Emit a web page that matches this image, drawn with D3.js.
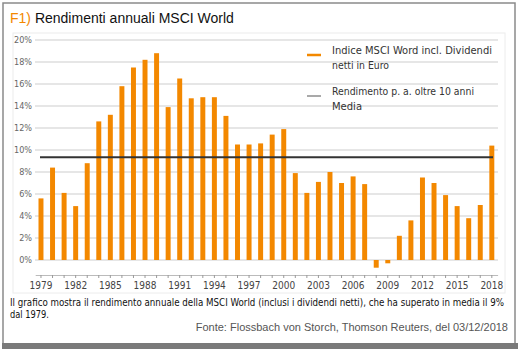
<!DOCTYPE html>
<html>
<head>
<meta charset="utf-8">
<script src="https://cdn.jsdelivr.net/npm/d3@7"></script>
<style>
  body { margin: 0; background: #fff; }
  svg { display: block; }
</style>
</head>
<body>
<script>
// Annual returns MSCI World (EUR, net dividends)
const years = d3.range(1979, 2019);
const returns = [
    5.6, 8.4, 6.1, 4.9, 8.8, 12.6, 13.2, 15.8, 17.5, 18.2,
    18.8, 13.9, 16.5, 14.7, 14.8, 14.8, 13.1, 10.5, 10.5, 10.6,
    11.4, 11.9, 7.9, 6.1, 7.1, 8.0, 7.0, 7.6, 6.9, -0.7,
    -0.3, 2.2, 3.6, 7.5, 7.0, 5.9, 4.9, 3.8, 5.0, 10.4
];
const meanReturn = 9.35;
const yTicks = d3.range(0, 21, 2);
const legendLabels = [
    ["Indice MSCI Word incl. Dividendi", "netti in Euro"],
    ["Rendimento p. a. oltre 10 anni", "Media"]
];

const width = 522;
const height = 354;
const orange = "#f38800";
const narrow = "'Liberation Sans Narrow', 'DejaVu Sans Condensed', 'Arial Narrow', sans-serif";
const regular = "'Liberation Sans', Arial, Helvetica, sans-serif";

const svg = d3.select("body").append("svg")
    .attr("width", width)
    .attr("height", height)
    .attr("viewBox", [0, 0, width, height]);

// squeeze a narrow text into the width it takes in the original
function fit(sel, w) {
    sel.attr("textLength", w).attr("lengthAdjust", "spacingAndGlyphs");
}

// Outer frame and bottom bar
svg.append("path")
    .attr("d", "M3,343V3H515V343")
    .attr("fill", "none")
    .attr("stroke", "#8a8a8a")
    .attr("stroke-width", 1.5);
svg.append("rect")
    .attr("x", 2).attr("y", 343)
    .attr("width", 516).attr("height", 6)
    .attr("fill", "#7a7a7a");

// Title
const title = svg.append("text")
    .attr("x", 10).attr("y", 23)
    .style("font-family", regular)
    .style("font-size", "14px");
title.append("tspan").attr("fill", orange).text("F1)");
title.append("tspan").attr("fill", "#111").text(" Rendimenti annuali MSCI World");

// Inner chart panel
svg.append("rect")
    .attr("x", 13).attr("y", 33)
    .attr("width", 492).attr("height", 260)
    .attr("fill", "none")
    .attr("stroke", "#ececec");

const x = d3.scaleBand()
    .domain(years)
    .range([35.2, 497.6])
    .paddingInner(0.57)
    .paddingOuter(0.285);

const y = d3.scaleLinear()
    .domain([0, 20])
    .range([260, 40]);

// Gridlines
svg.append("g")
    .selectAll("line")
    .data(yTicks)
    .join("line")
    .attr("x1", 35).attr("x2", 498)
    .attr("y1", d => y(d)).attr("y2", d => y(d))
    .attr("stroke", "#dedede")
    .attr("stroke-width", 1.5);

// Y axis labels
svg.append("g")
    .attr("transform", "translate(32,0)")
    .call(d3.axisLeft(y).tickValues(yTicks).tickFormat(d => d + "%").tickSize(0).tickPadding(0))
    .call(g => g.select(".domain").remove())
    .call(g => g.selectAll("text")
        .attr("fill", "#666")
        .style("font-family", narrow)
        .style("font-size", "9px"));

// Bars
svg.append("g")
    .attr("fill", orange)
    .selectAll("rect")
    .data(years.map((yr, i) => ({year: yr, value: returns[i]})))
    .join("rect")
    .attr("x", d => x(d.year))
    .attr("y", d => y(Math.max(0, d.value)))
    .attr("width", x.bandwidth())
    .attr("height", d => Math.abs(y(d.value) - y(0)));

// Average line
svg.append("line")
    .attr("x1", 40).attr("x2", 493)
    .attr("y1", y(meanReturn)).attr("y2", y(meanReturn))
    .attr("stroke", "#333")
    .attr("stroke-width", 2);

// X axis
svg.append("g")
    .attr("transform", "translate(0,275)")
    .call(d3.axisBottom(x)
        .tickSize(3)
        .tickSizeOuter(0)
        .tickPadding(4)
        .tickFormat(d => (d - 1979) % 3 === 0 ? d : ""))
    .call(g => g.select(".domain").attr("stroke", "#bbb"))
    .call(g => g.selectAll(".tick line").attr("stroke", "#999"))
    .call(g => g.selectAll("text")
        .attr("fill", "#444")
        .style("font-family", narrow)
        .style("font-size", "10px"));

// Legend
const legend = svg.append("g")
    .style("font-family", narrow)
    .style("font-size", "11px")
    .attr("fill", "#333");
const legendRows = [
    {color: orange, width: 2.5, y: 55, w: [160, 57]},
    {color: "#8c8c8c", width: 1.5, y: 96, w: [142, 30]}
];
legendRows.forEach((r, i) => {
    legend.append("line")
        .attr("x1", 307).attr("x2", 321)
        .attr("y1", r.y).attr("y2", r.y)
        .attr("stroke", r.color)
        .attr("stroke-width", r.width);
    legendLabels[i].forEach((t, j) => {
        legend.append("text")
            .attr("x", 332)
            .attr("y", r.y - 1 + j * 14.5)
            .text(t)
            .call(fit, r.w[j]);
    });
});

// Caption and source
svg.append("text")
    .attr("x", 10).attr("y", 306)
    .attr("fill", "#111")
    .style("font-family", narrow)
    .style("font-size", "10px")
    .text("Il grafico mostra il rendimento annuale della MSCI World (inclusi i dividendi netti), che ha superato in media il 9%")
    .call(fit, 494);
svg.append("text")
    .attr("x", 10).attr("y", 318)
    .attr("fill", "#111")
    .style("font-family", narrow)
    .style("font-size", "10px")
    .text("dal 1979.")
    .call(fit, 39);
svg.append("text")
    .attr("x", 508).attr("y", 331)
    .attr("text-anchor", "end")
    .attr("fill", "#555")
    .style("font-family", regular)
    .style("font-size", "11px")
    .text("Fonte: Flossbach von Storch, Thomson Reuters, del 03/12/2018");
</script>
</body>
</html>
